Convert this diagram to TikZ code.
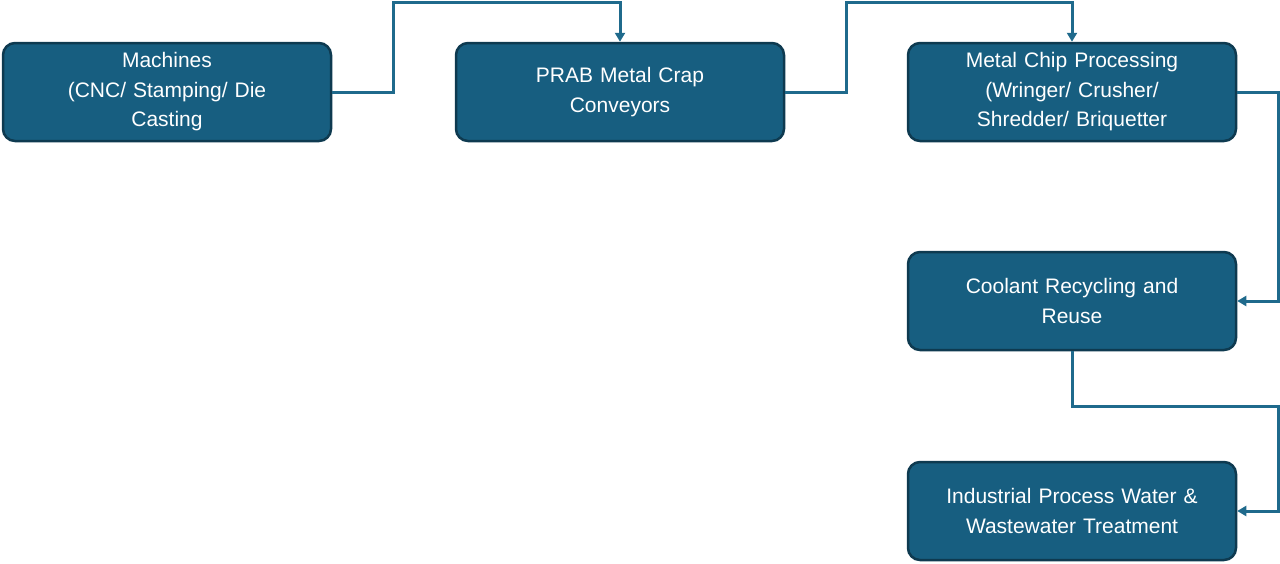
\documentclass[tikz,border=0pt]{standalone}
\usepackage{fontspec}
\setmainfont{Liberation Sans}
\usetikzlibrary{arrows.meta}
\definecolor{boxfill}{HTML}{175E80}
\definecolor{boxline}{HTML}{0E3A50}
\definecolor{wire}{HTML}{1F6A8C}
\begin{document}
\begin{tikzpicture}[x=1pt,y=-1pt,
  box/.style={draw=boxline,line width=2.5pt,fill=boxfill,rounded corners=12pt,
    minimum width=328pt,minimum height=98pt,text width=300pt,align=center,
    text=white,font=\fontsize{21}{29.5}\selectfont,inner sep=0pt},
  link/.style={draw=wire,line width=3pt,-{Triangle[length=9pt,width=10pt]}}]
\useasboundingbox (0,0) rectangle (1280,563);
\node[box] (m) at (167,92) {Machines\\(CNC/ Stamping/ Die\\Casting};
\node[box] (p) at (620,92) {PRAB Metal Crap\\Conveyors};
\node[box] (c) at (1072,92) {Metal Chip Processing\\(Wringer/ Crusher/\\Shredder/ Briquetter};
\node[box] (r) at (1072,301) {Coolant Recycling and\\Reuse};
\node[box] (w) at (1072,511) {Industrial Process Water \&\\Wastewater Treatment};
\draw[link] (m.east) -- (393,92) -- (393,2) -- (620,2) -- (p.north);
\draw[link] (p.east) -- (846,92) -- (846,2) -- (1072,2) -- (c.north);
\draw[link] (c.east) -- (1278,92) -- (1278,301) -- (r.east);
\draw[link] (r.south) -- (1072,406) -- (1278,406) -- (1278,511) -- (w.east);
\end{tikzpicture}
\end{document}
